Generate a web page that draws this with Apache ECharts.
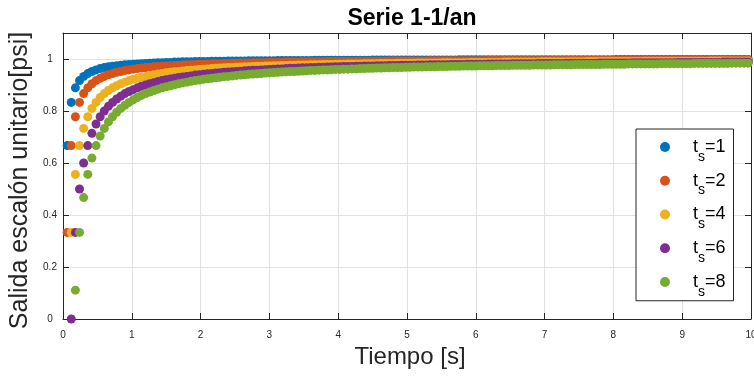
<!DOCTYPE html>
<html>
<head>
<meta charset="utf-8">
<title>Serie 1-1/an</title>
<script src="https://cdn.jsdelivr.net/npm/echarts@6.0.0/dist/echarts.min.js"></script>
<style>
  html, body { margin: 0; padding: 0; background: #fff; }
  #chart { width: 754px; height: 376px; }
</style>
</head>
<body>
<div id="chart"></div>
<script>
// datos
var tiempo = [
  0.06,0.12,0.18,0.24,0.3,0.36,0.42,0.48,0.54,0.6,
  0.66,0.72,0.78,0.84,0.9,0.96,1.02,1.08,1.14,1.2,
  1.26,1.32,1.38,1.44,1.5,1.56,1.62,1.68,1.74,1.8,
  1.86,1.92,1.98,2.04,2.1,2.16,2.22,2.28,2.34,2.4,
  2.46,2.52,2.58,2.64,2.7,2.76,2.82,2.88,2.94,3,
  3.06,3.12,3.18,3.24,3.3,3.36,3.42,3.48,3.54,3.6,
  3.66,3.72,3.78,3.84,3.9,3.96,4.02,4.08,4.14,4.2,
  4.26,4.32,4.38,4.44,4.5,4.56,4.62,4.68,4.74,4.8,
  4.86,4.92,4.98,5.04,5.1,5.16,5.22,5.28,5.34,5.4,
  5.46,5.52,5.58,5.64,5.7,5.76,5.82,5.88,5.94,6,
  6.06,6.12,6.18,6.24,6.3,6.36,6.42,6.48,6.54,6.6,
  6.66,6.72,6.78,6.84,6.9,6.96,7.02,7.08,7.14,7.2,
  7.26,7.32,7.38,7.44,7.5,7.56,7.62,7.68,7.74,7.8,
  7.86,7.92,7.98,8.04,8.1,8.16,8.22,8.28,8.34,8.4,
  8.46,8.52,8.58,8.64,8.7,8.76,8.82,8.88,8.94,9,
  9.06,9.12,9.18,9.24,9.3,9.36,9.42,9.48,9.54,9.6,
  9.66,9.72,9.78,9.84,9.9,9.96
];

var tsValores = [1, 2, 4, 6, 8];

var serieTs1 = [
  0.667,0.833,0.889,0.917,0.933,0.944,0.952,0.958,0.963,0.967,
  0.970,0.972,0.974,0.976,0.978,0.979,0.980,0.981,0.982,0.983,
  0.984,0.985,0.986,0.986,0.987,0.987,0.988,0.988,0.989,0.989,
  0.989,0.990,0.990,0.990,0.990,0.991,0.991,0.991,0.991,0.992,
  0.992,0.992,0.992,0.992,0.993,0.993,0.993,0.993,0.993,0.993,
  0.993,0.994,0.994,0.994,0.994,0.994,0.994,0.994,0.994,0.994,
  0.995,0.995,0.995,0.995,0.995,0.995,0.995,0.995,0.995,0.995,
  0.995,0.995,0.995,0.995,0.996,0.996,0.996,0.996,0.996,0.996,
  0.996,0.996,0.996,0.996,0.996,0.996,0.996,0.996,0.996,0.996,
  0.996,0.996,0.996,0.996,0.996,0.997,0.997,0.997,0.997,0.997,
  0.997,0.997,0.997,0.997,0.997,0.997,0.997,0.997,0.997,0.997,
  0.997,0.997,0.997,0.997,0.997,0.997,0.997,0.997,0.997,0.997,
  0.997,0.997,0.997,0.997,0.997,0.997,0.997,0.997,0.997,0.997,
  0.997,0.997,0.997,0.998,0.998,0.998,0.998,0.998,0.998,0.998,
  0.998,0.998,0.998,0.998,0.998,0.998,0.998,0.998,0.998,0.998,
  0.998,0.998,0.998,0.998,0.998,0.998,0.998,0.998,0.998,0.998,
  0.998,0.998,0.998,0.998,0.998,0.998
];

var serieTs2 = [
  0.333,0.667,0.778,0.833,0.867,0.889,0.905,0.917,0.926,0.933,
  0.939,0.944,0.949,0.952,0.956,0.958,0.961,0.963,0.965,0.967,
  0.968,0.970,0.971,0.972,0.973,0.974,0.975,0.976,0.977,0.978,
  0.978,0.979,0.980,0.980,0.981,0.981,0.982,0.982,0.983,0.983,
  0.984,0.984,0.985,0.985,0.985,0.986,0.986,0.986,0.986,0.987,
  0.987,0.987,0.987,0.988,0.988,0.988,0.988,0.989,0.989,0.989,
  0.989,0.989,0.989,0.990,0.990,0.990,0.990,0.990,0.990,0.990,
  0.991,0.991,0.991,0.991,0.991,0.991,0.991,0.991,0.992,0.992,
  0.992,0.992,0.992,0.992,0.992,0.992,0.992,0.992,0.993,0.993,
  0.993,0.993,0.993,0.993,0.993,0.993,0.993,0.993,0.993,0.993,
  0.993,0.993,0.994,0.994,0.994,0.994,0.994,0.994,0.994,0.994,
  0.994,0.994,0.994,0.994,0.994,0.994,0.994,0.994,0.994,0.994,
  0.994,0.995,0.995,0.995,0.995,0.995,0.995,0.995,0.995,0.995,
  0.995,0.995,0.995,0.995,0.995,0.995,0.995,0.995,0.995,0.995,
  0.995,0.995,0.995,0.995,0.995,0.995,0.995,0.995,0.996,0.996,
  0.996,0.996,0.996,0.996,0.996,0.996,0.996,0.996,0.996,0.996,
  0.996,0.996,0.996,0.996,0.996,0.996
];

var serieTs4 = [
  null,0.333,0.556,0.667,0.733,0.778,0.810,0.833,0.852,0.867,
  0.879,0.889,0.897,0.905,0.911,0.917,0.922,0.926,0.930,0.933,
  0.937,0.939,0.942,0.944,0.947,0.949,0.951,0.952,0.954,0.956,
  0.957,0.958,0.960,0.961,0.962,0.963,0.964,0.965,0.966,0.967,
  0.967,0.968,0.969,0.970,0.970,0.971,0.972,0.972,0.973,0.973,
  0.974,0.974,0.975,0.975,0.976,0.976,0.977,0.977,0.977,0.978,
  0.978,0.978,0.979,0.979,0.979,0.980,0.980,0.980,0.981,0.981,
  0.981,0.981,0.982,0.982,0.982,0.982,0.983,0.983,0.983,0.983,
  0.984,0.984,0.984,0.984,0.984,0.985,0.985,0.985,0.985,0.985,
  0.985,0.986,0.986,0.986,0.986,0.986,0.986,0.986,0.987,0.987,
  0.987,0.987,0.987,0.987,0.987,0.987,0.988,0.988,0.988,0.988,
  0.988,0.988,0.988,0.988,0.988,0.989,0.989,0.989,0.989,0.989,
  0.989,0.989,0.989,0.989,0.989,0.989,0.990,0.990,0.990,0.990,
  0.990,0.990,0.990,0.990,0.990,0.990,0.990,0.990,0.990,0.990,
  0.991,0.991,0.991,0.991,0.991,0.991,0.991,0.991,0.991,0.991,
  0.991,0.991,0.991,0.991,0.991,0.991,0.992,0.992,0.992,0.992,
  0.992,0.992,0.992,0.992,0.992,0.992
];

var serieTs6 = [
  null,0,0.333,0.5,0.6,0.667,0.714,0.75,0.778,0.8,
  0.818,0.833,0.846,0.857,0.867,0.875,0.882,0.889,0.895,0.9,
  0.905,0.909,0.913,0.917,0.92,0.923,0.926,0.929,0.931,0.933,
  0.935,0.938,0.939,0.941,0.943,0.944,0.946,0.947,0.949,0.95,
  0.951,0.952,0.953,0.955,0.956,0.957,0.957,0.958,0.959,0.96,
  0.961,0.962,0.962,0.963,0.964,0.964,0.965,0.966,0.966,0.967,
  0.967,0.968,0.968,0.969,0.969,0.970,0.970,0.971,0.971,0.971,
  0.972,0.972,0.973,0.973,0.973,0.974,0.974,0.974,0.975,0.975,
  0.975,0.976,0.976,0.976,0.976,0.977,0.977,0.977,0.978,0.978,
  0.978,0.978,0.978,0.979,0.979,0.979,0.979,0.980,0.980,0.980,
  0.980,0.980,0.981,0.981,0.981,0.981,0.981,0.981,0.982,0.982,
  0.982,0.982,0.982,0.982,0.983,0.983,0.983,0.983,0.983,0.983,
  0.983,0.984,0.984,0.984,0.984,0.984,0.984,0.984,0.984,0.985,
  0.985,0.985,0.985,0.985,0.985,0.985,0.985,0.986,0.986,0.986,
  0.986,0.986,0.986,0.986,0.986,0.986,0.986,0.986,0.987,0.987,
  0.987,0.987,0.987,0.987,0.987,0.987,0.987,0.987,0.987,0.988,
  0.988,0.988,0.988,0.988,0.988,0.988
];

var serieTs8 = [
  null,null,0.111,0.333,0.467,0.556,0.619,0.667,0.704,0.733,
  0.758,0.778,0.795,0.810,0.822,0.833,0.843,0.852,0.860,0.867,
  0.873,0.879,0.884,0.889,0.893,0.897,0.901,0.905,0.908,0.911,
  0.914,0.917,0.919,0.922,0.924,0.926,0.928,0.930,0.932,0.933,
  0.935,0.937,0.938,0.939,0.941,0.942,0.943,0.944,0.946,0.947,
  0.948,0.949,0.950,0.951,0.952,0.952,0.953,0.954,0.955,0.956,
  0.956,0.957,0.958,0.958,0.959,0.960,0.960,0.961,0.961,0.962,
  0.962,0.963,0.963,0.964,0.964,0.965,0.965,0.966,0.966,0.967,
  0.967,0.967,0.968,0.968,0.969,0.969,0.969,0.970,0.970,0.970,
  0.971,0.971,0.971,0.972,0.972,0.972,0.973,0.973,0.973,0.973,
  0.974,0.974,0.974,0.974,0.975,0.975,0.975,0.975,0.976,0.976,
  0.976,0.976,0.976,0.977,0.977,0.977,0.977,0.977,0.978,0.978,
  0.978,0.978,0.978,0.979,0.979,0.979,0.979,0.979,0.979,0.979,
  0.980,0.980,0.980,0.980,0.980,0.980,0.981,0.981,0.981,0.981,
  0.981,0.981,0.981,0.981,0.982,0.982,0.982,0.982,0.982,0.982,
  0.982,0.982,0.983,0.983,0.983,0.983,0.983,0.983,0.983,0.983,
  0.983,0.984,0.984,0.984,0.984,0.984
];

var series = [serieTs1, serieTs2, serieTs4, serieTs6, serieTs8];
var colores = ['#0072BD', '#D95319', '#EDB120', '#7E2F8E', '#77AC30'];
var fuente = 'Liberation Sans, Arial, Helvetica, sans-serif';
var gris = '#262626';

var myChart = echarts.init(document.getElementById('chart'), null, { renderer: 'canvas' });

var seriesOpt = tsValores.map(function (ts, k) {
  var puntos = [];
  for (var i = 0; i < tiempo.length; i++) {
    if (series[k][i] !== null) puntos.push([tiempo[i], series[k][i]]);
  }
  return {
    name: 'ts=' + ts,
    type: 'scatter',
    data: puntos,
    symbol: 'circle',
    symbolSize: 9,
    clip: false,
    itemStyle: { color: colores[k], opacity: 1 },
    emphasis: { disabled: true }
  };
});

var option = {
  animation: false,
  backgroundColor: '#fff',
  title: {
    text: 'Serie 1-1/an',
    left: 407,
    top: 2,
    textAlign: 'center',
    textStyle: { fontFamily: fuente, fontSize: 23, fontWeight: 'bold', color: '#000' }
  },
  grid: { left: 63, right: 3, top: 33, bottom: 57, containLabel: false, outerBoundsMode: 'none' },
  legend: {
    orient: 'vertical',
    left: 636,
    top: 129,
    padding: [9, 8, 2, 24],
    itemGap: 8,
    itemWidth: 46,
    itemHeight: 10,
    icon: 'circle',
    selectedMode: false,
    backgroundColor: '#fff',
    borderColor: gris,
    borderWidth: 1,
    borderRadius: 0,
    data: tsValores.map(function (ts) { return 'ts=' + ts; }),
    formatter: function (name) {
      return '{t|t}{s|s}{t|=' + name.split('=')[1] + '}';
    },
    textStyle: {
      fontFamily: fuente,
      color: '#000',
      rich: {
        t: { fontFamily: fuente, fontSize: 18, lineHeight: 33.5, color: '#000' },
        s: { fontFamily: fuente, fontSize: 14, lineHeight: 14, verticalAlign: 'bottom', color: '#000' }
      }
    }
  },
  xAxis: [
    {
      type: 'value',
      min: 0, max: 10, interval: 1,
      name: 'Tiempo [s]',
      nameLocation: 'middle',
      nameGap: 22,
      nameTextStyle: { fontFamily: fuente, fontSize: 24, color: gris, padding: [0, 0, 0, 6] },
      axisLine: { show: true, onZero: false, lineStyle: { color: gris, width: 1 } },
      axisTick: { show: true, inside: true, length: 6, lineStyle: { color: gris } },
      axisLabel: { fontFamily: fuente, fontSize: 10, color: gris, margin: 11 },
      splitLine: { show: true, lineStyle: { color: '#e2e2e2', width: 1 } }
    },
    {
      type: 'value',
      position: 'top',
      min: 0, max: 10, interval: 1,
      axisLine: { show: true, onZero: false, lineStyle: { color: gris, width: 1 } },
      axisTick: { show: true, inside: true, length: 6, lineStyle: { color: gris } },
      axisLabel: { show: false },
      splitLine: { show: false }
    }
  ],
  yAxis: [
    {
      type: 'value',
      min: 0, max: 1.1, interval: 0.2,
      name: 'Salida escalón unitario[psi]',
      nameLocation: 'middle',
      nameGap: 28,
      nameTextStyle: { fontFamily: fuente, fontSize: 25, color: gris, padding: [0, 9, 0, 0] },
      axisLine: { show: true, onZero: false, lineStyle: { color: gris, width: 1 } },
      axisTick: { show: true, inside: true, length: 6, lineStyle: { color: gris } },
      axisLabel: { fontFamily: fuente, fontSize: 10, color: gris, margin: 13, align: 'center', showMaxLabel: false },
      splitLine: { show: true, lineStyle: { color: '#e2e2e2', width: 1 } }
    },
    {
      type: 'value',
      position: 'right',
      min: 0, max: 1.1, interval: 0.2,
      axisLine: { show: true, onZero: false, lineStyle: { color: gris, width: 1 } },
      axisTick: { show: true, inside: true, length: 6, lineStyle: { color: gris } },
      axisLabel: { show: false },
      splitLine: { show: false }
    }
  ],
  series: seriesOpt
};

myChart.setOption(option);
</script>
</body>
</html>
